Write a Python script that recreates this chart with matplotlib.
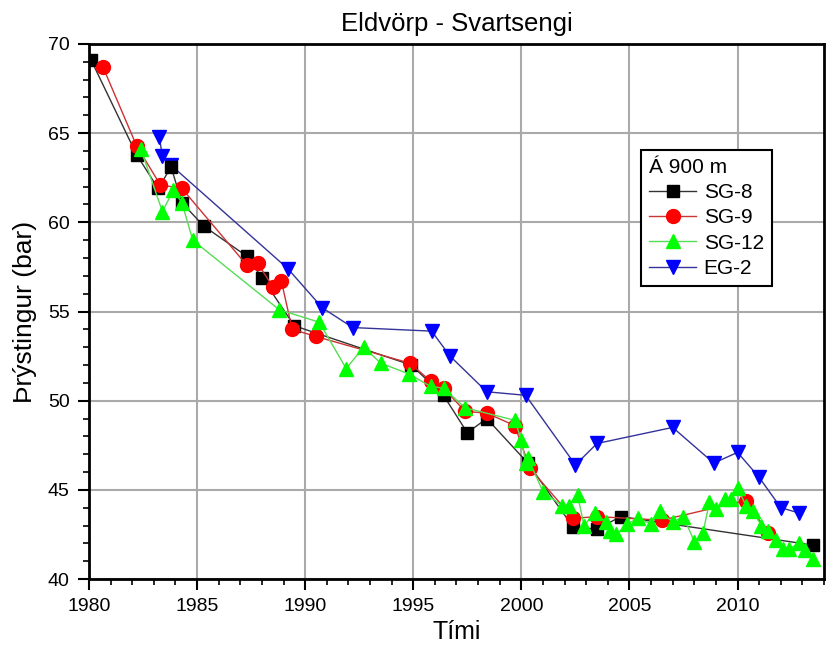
import matplotlib.pyplot as plt
from matplotlib.ticker import MultipleLocator

plt.rcParams['font.family'] = ['Liberation Sans', 'DejaVu Sans']

# SG-8
sg8_year = [1980.1, 1982.2, 1983.2, 1983.8, 1984.3, 1985.3, 1987.3, 1988.0, 1989.5,
            1994.9, 1996.4, 1997.5, 1998.4, 2000.3, 2002.4, 2003.5, 2004.6, 2013.5]
sg8_p = [69.1, 63.8, 61.9, 63.1, 61.1, 59.8, 58.1, 56.9, 54.2,
         52.0, 50.3, 48.2, 49.0, 46.5, 42.9, 42.8, 43.5, 41.9]

# SG-9
sg9_year = [1980.65, 1982.2, 1983.3, 1984.3, 1987.3, 1987.8, 1988.5, 1988.9, 1989.4,
            1990.5, 1994.85, 1995.8, 1996.4, 1997.4, 1998.4, 1999.7, 2000.4,
            2002.4, 2003.5, 2006.5, 2010.4, 2011.4]
sg9_p = [68.7, 64.3, 62.1, 61.9, 57.6, 57.7, 56.4, 56.7, 54.0,
         53.6, 52.1, 51.1, 50.7, 49.4, 49.3, 48.6, 46.2,
         43.4, 43.5, 43.3, 44.4, 42.6]

# SG-12
sg12_year = [1982.4, 1983.4, 1983.9, 1984.3, 1984.8, 1988.8, 1990.65, 1991.9, 1992.7,
             1993.5, 1994.8, 1995.8, 1996.4, 1997.4, 1999.7, 2000.0, 2000.2, 2000.3,
             2001.0, 2001.9, 2002.2, 2002.6, 2002.9, 2003.4, 2003.9, 2004.1, 2004.4,
             2004.9, 2005.4, 2006.0, 2006.4, 2007.0, 2007.5, 2008.0, 2008.4, 2008.7,
             2009.0, 2009.4, 2009.7, 2010.0, 2010.4, 2010.7, 2011.1, 2011.4, 2011.8,
             2012.1, 2012.4, 2012.85, 2013.1, 2013.5]
sg12_p = [64.1, 60.6, 61.8, 61.1, 59.0, 55.1, 54.4, 51.8, 53.0,
          52.1, 51.5, 50.8, 50.7, 49.6, 48.9, 47.8, 46.5, 46.8,
          44.9, 44.1, 44.1, 44.7, 43.0, 43.7, 43.2, 42.7, 42.5,
          43.1, 43.4, 43.1, 43.8, 43.2, 43.5, 42.1, 42.6, 44.3,
          43.9, 44.5, 44.5, 45.1, 44.1, 43.8, 43.0, 42.7, 42.2,
          41.7, 41.7, 42.0, 41.6, 41.1]

# EG-2
eg2_year = [1983.25, 1983.4, 1983.8, 1989.2, 1990.8, 1992.2, 1995.85, 1996.7, 1998.4,
            2000.2, 2002.5, 2003.5, 2007.0, 2008.9, 2010.0, 2011.0, 2012.0, 2012.85]
eg2_p = [64.8, 63.7, 63.2, 57.4, 55.2, 54.1, 53.9, 52.5, 50.5,
         50.3, 46.4, 47.6, 48.5, 46.5, 47.1, 45.7, 44.0, 43.7]

fig = plt.figure(figsize=(8.26, 6.46), dpi=100)
ax = fig.add_axes([0.1077, 0.1037, 0.8899, 0.8282])

ax.plot(sg8_year, sg8_p, color='#333333', lw=1, marker='s', ms=9,
        mfc='black', mec='black', label='SG-8', zorder=3)
ax.plot(sg9_year, sg9_p, color='#cc3333', lw=1, marker='o', ms=10,
        mfc='red', mec='red', label='SG-9', zorder=4)
ax.plot(sg12_year, sg12_p, color='#55dd55', lw=1, marker='^', ms=10,
        mfc='#00ff00', mec='#00ff00', label='SG-12', zorder=5)
ax.plot(eg2_year, eg2_p, color='#333399', lw=1, marker='v', ms=10,
        mfc='#0000ff', mec='#0000ff', label='EG-2', zorder=2)

ax.set_xlim(1980, 2014)
ax.set_ylim(40, 70)
ax.xaxis.set_major_locator(MultipleLocator(5))
ax.xaxis.set_minor_locator(MultipleLocator(1))
ax.yaxis.set_major_locator(MultipleLocator(5))
ax.yaxis.set_minor_locator(MultipleLocator(1))
ax.tick_params(which='major', direction='out', length=8, width=1.5,
               labelsize=14, pad=6)
ax.tick_params(which='minor', direction='out', length=4.5, width=1.2)
ax.grid(True, which='major', color='#aaaaaa', lw=1.5)
ax.set_axisbelow(True)
for s in ax.spines.values():
    s.set_linewidth(2)

ax.set_title('Eldvörp - Svartsengi', fontsize=18.5, pad=9)
ax.set_xlabel('Tími', fontsize=18, labelpad=3)
ax.set_ylabel('Þrýstingur (bar)', fontsize=19, labelpad=8)

leg = ax.legend(title='Á 900 m', loc='upper left', bbox_to_anchor=(0.737, 0.822),
                fontsize=15, title_fontsize=15, fancybox=False, framealpha=1,
                edgecolor='black', borderpad=0.4, handlelength=2.25,
                handletextpad=0.35, labelspacing=0.3)
leg._legend_box.align = 'left'
leg.get_frame().set_linewidth(1.5)

fig.savefig('out.png', dpi=100)
